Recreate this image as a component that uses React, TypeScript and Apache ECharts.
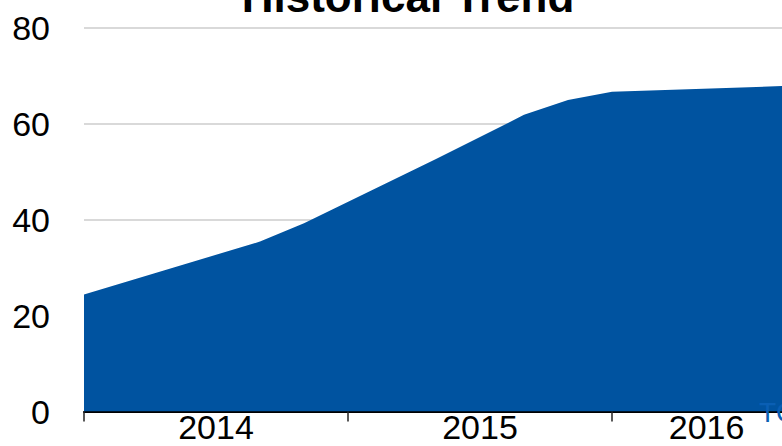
import React, { useEffect, useRef } from "react";
import * as echarts from "echarts";

// Months elapsed since Jan 2014 at the curve's break points, and values read there
const months = [0, 8, 10, 16, 20, 22, 24, 32];
const values = [24.4, 35.4, 39.2, 52.6, 61.8, 64.9, 66.6, 67.85];

const yTicks = [0, 20, 40, 60, 80];
const yearLabels = ["2014", "2015", "2016"];
const yearLabelPos = [6, 18, 28.3];
const yearTickPos = [0, 12, 24];

const FONT = "'Liberation Sans', Arial, sans-serif";

export default function App() {
  const ref = useRef<HTMLDivElement>(null);

  useEffect(() => {
    if (!ref.current) return;
    const chart = echarts.init(ref.current, null, { renderer: "svg" });
    const data = months.map((m, i) => [m, values[i]]);
    chart.setOption({
      animation: false,
      backgroundColor: "#ffffff",
      textStyle: { fontFamily: FONT },
      title: {
        text: "Historical Trend",
        left: 403,
        textAlign: "center",
        top: -31,
        textStyle: { fontFamily: FONT, fontSize: 44, fontWeight: "bold", color: "#000" },
      },
      grid: { left: 84, right: 0, top: 27.5, bottom: 34.5, containLabel: false },
      xAxis: {
        type: "value",
        min: 0,
        max: (782 - 84) / 22,
        splitLine: { show: false },
        axisLine: { show: true, onZero: false, lineStyle: { color: "#000", width: 2 } },
        axisTick: {
          show: true,
          length: 10,
          customValues: yearTickPos,
          lineStyle: { color: "#222", width: 1.5 },
        },
        axisLabel: {
          show: true,
          customValues: yearLabelPos,
          margin: -1,
          fontSize: 34,
          lineHeight: 32,
          color: "#000",
          fontFamily: FONT,
          formatter: (v: number) => {
            const idx = yearLabelPos.findIndex((p) => Math.abs(p - v) < 1e-6);
            return idx >= 0 ? yearLabels[idx] : "";
          },
        },
      },
      yAxis: {
        type: "value",
        min: yTicks[0],
        max: yTicks[yTicks.length - 1],
        interval: 20,
        axisLine: { show: false },
        axisTick: { show: false },
        splitLine: { show: true, lineStyle: { color: "#d9d9d9", width: 2 } },
        axisLabel: { margin: 34, fontSize: 34, color: "#000", fontFamily: FONT },
      },
      series: [
        {
          type: "line",
          data,
          symbol: "none",
          lineStyle: { width: 0 },
          areaStyle: { color: "#0053A0", opacity: 1 },
          itemStyle: { color: "#0053A0" },
          clip: true,
          z: 2,
        },
      ],
      graphic: [
        {
          type: "text",
          left: 759,
          top: 398,
          z: 100,
          style: { text: "TCdata360", fontSize: 28, fill: "#0a5fb4", fontFamily: FONT },
        },
      ],
    });
    return () => chart.dispose();
  }, []);

  return (
    <div
      ref={ref}
      style={{ position: "fixed", left: 0, top: 0, width: 782, height: 446 }}
    />
  );
}
